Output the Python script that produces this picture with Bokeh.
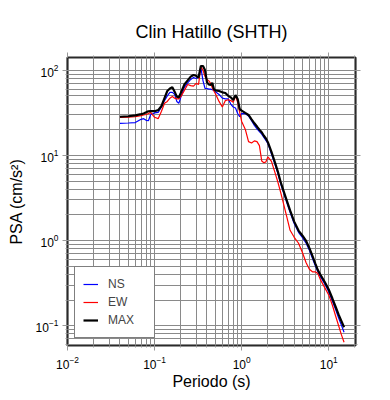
from bokeh.plotting import figure
from bokeh.models import LogAxis, Range1d, Legend, LegendItem, CustomJSTickFormatter
from bokeh.embed import file_html
from bokeh.resources import INLINE

title = "Clin Hatillo (SHTH)"
x_label = "Periodo (s)"
y_label = "PSA (cm/s²)"

periods = [0.04, 0.05, 0.06, 0.07, 0.075, 0.08, 0.085, 0.09, 0.1, 0.11, 0.12, 0.13, 0.14, 0.15,
           0.16, 0.17, 0.18, 0.19, 0.2, 0.22, 0.24, 0.26, 0.28, 0.3, 0.32, 0.34, 0.36, 0.38, 0.4,
           0.42, 0.44, 0.46, 0.48, 0.5, 0.55, 0.6, 0.65, 0.7, 0.75, 0.8, 0.85, 0.9, 0.95, 1.0,
           1.1, 1.2, 1.3, 1.4, 1.5, 1.6, 1.7, 1.8, 1.9, 2.0, 2.2, 2.4, 2.6, 2.8, 3.0, 3.3, 3.6,
           4.0, 4.5, 5.0, 5.5, 6.0, 6.5, 7.0, 7.5, 8.0, 9.0, 10, 11, 12, 13, 14, 15]

psa_max = [28.4, 28.8, 29.5, 30.5, 31, 32, 33, 33.2, 33, 34, 38, 47, 57, 61,
           63, 56, 49, 48, 54, 68, 76, 84, 88, 86, 82, 112, 112, 100, 72,
           68, 67, 71, 60, 58, 57, 55, 54, 50, 48, 44.7, 51, 46, 35, 33.5,
           31.5, 29.8, 26.5, 23.8, 21.8, 20, 18.7, 17, 15.8, 14.3, 11, 8.4, 6.5, 4.9, 3.93, 2.95, 2.26,
           1.68, 1.31, 1.14, 0.99, 0.815, 0.66, 0.54, 0.45, 0.40, 0.326, 0.266, 0.21, 0.167, 0.135, 0.113, 0.096]

psa_ns = [23.8, 24, 24.3, 26.5, 27, 25.8, 25.5, 30, 31.5, 32, 37, 44, 50, 55,
          55, 52, 43, 41, 48, 63, 71, 78, 82, 80, 84, 108, 75, 61, 61,
          60, 60, 59, 58, 56, 52, 47, 46, 46, 40, 37, 36, 31, 28.5, 31,
          31, 29, 25.5, 22.5, 20.5, 19, 17.8, 16.3, 15, 13.8, 10.4, 8.0, 6.2, 4.7, 3.75, 2.8, 2.15,
          1.6, 1.25, 1.08, 0.93, 0.77, 0.62, 0.51, 0.43, 0.38, 0.31, 0.25, 0.195, 0.155, 0.123, 0.101, 0.084]

psa_ew = [28, 28.2, 28.5, 29.3, 29.8, 30.2, 31, 32, 28, 27, 33, 41, 43, 47,
          49, 47, 46, 46, 49, 58, 68, 66, 65, 70, 68, 110, 100, 84, 78,
          75, 70, 62, 57, 53, 43, 37, 44, 45, 44, 42, 50, 42, 32, 25,
          20.3, 14.5, 14, 14.8, 14.5, 13, 8.6, 8.2, 8.4, 9.6, 8.5, 6.4, 4.9, 3.7, 2.8, 1.9, 1.32,
          1.1, 0.93, 0.72, 0.55, 0.46, 0.43, 0.43, 0.41, 0.35, 0.28, 0.23, 0.175, 0.13, 0.1, 0.078, 0.064]

FONT = "Liberation Sans"

p = figure(width=390, height=400, x_axis_type="log", y_axis_type="log",
           x_range=Range1d(0.01, 20.3), y_range=Range1d(0.0586, 141),
           output_backend="svg", toolbar_location=None,
           min_border_left=67, min_border_right=35, min_border_top=57, min_border_bottom=55)

p.title.text = title
p.title.align = "center"
p.title.text_font = FONT
p.title.text_font_size = "18px"
p.title.text_font_style = "normal"
p.title.text_color = "#000000"
p.title.standoff = 21

p.outline_line_color = "#2a2a2a"
p.outline_line_width = 2.2
p.background_fill_color = "white"
p.border_fill_color = "white"

for g in (p.xgrid[0], p.ygrid[0]):
    g.grid_line_color = "#8a8a8a"
    g.grid_line_width = 1
    g.minor_grid_line_color = "#8a8a8a"
    g.minor_grid_line_width = 1

for ax in (p.xaxis[0], p.yaxis[0]):
    ax.axis_line_color = None
    ax.major_tick_line_color = "#999999"
    ax.minor_tick_line_color = "#999999"
    ax.major_tick_out = 5
    ax.major_tick_in = 0
    ax.minor_tick_out = 2
    ax.minor_tick_in = 0
    ax.major_label_text_font = FONT
    ax.major_label_text_font_size = "12px"
    ax.major_label_text_color = "#000000"
    ax.major_label_standoff = 4
    ax.axis_label_text_font = FONT
    ax.axis_label_text_font_size = "16px"
    ax.axis_label_text_font_style = "normal"
    ax.axis_label_text_color = "#000000"

p.xaxis[0].axis_label = x_label
p.yaxis[0].axis_label = y_label
p.xaxis[0].major_label_standoff = 5
p.xaxis[0].axis_label_standoff = 1
p.yaxis[0].axis_label_standoff = 8

for loc in ("above", "right"):
    ax = LogAxis(formatter=CustomJSTickFormatter(code="return '';"))
    ax.axis_line_color = None
    ax.major_tick_line_color = "#999999"
    ax.minor_tick_line_color = "#999999"
    ax.major_tick_out = 5
    ax.major_tick_in = 0
    ax.minor_tick_out = 2
    ax.minor_tick_in = 0
    ax.major_label_text_font_size = "4px"
    ax.major_label_standoff = 0
    p.add_layout(ax, loc)

r_ns = p.line(periods, psa_ns, line_color="#0000ff", line_width=1.2)
r_ew = p.line(periods, psa_ew, line_color="#ff0000", line_width=1.2)
r_max = p.line(periods, psa_max, line_color="#000000", line_width=2.2)

legend = Legend(items=[LegendItem(label="NS", renderers=[r_ns]),
                       LegendItem(label="EW", renderers=[r_ew]),
                       LegendItem(label="MAX", renderers=[r_max])],
                location=(7, 7), margin=0, padding=8, spacing=0,
                glyph_width=15, glyph_height=18, label_height=18, label_width=38,
                label_standoff=10,
                label_text_font=FONT, label_text_font_size="12px",
                border_line_color="#000000", border_line_width=1.8,
                background_fill_color="white", background_fill_alpha=1)
p.add_layout(legend, "center")

open("out.html", "w").write(file_html(p, INLINE))
